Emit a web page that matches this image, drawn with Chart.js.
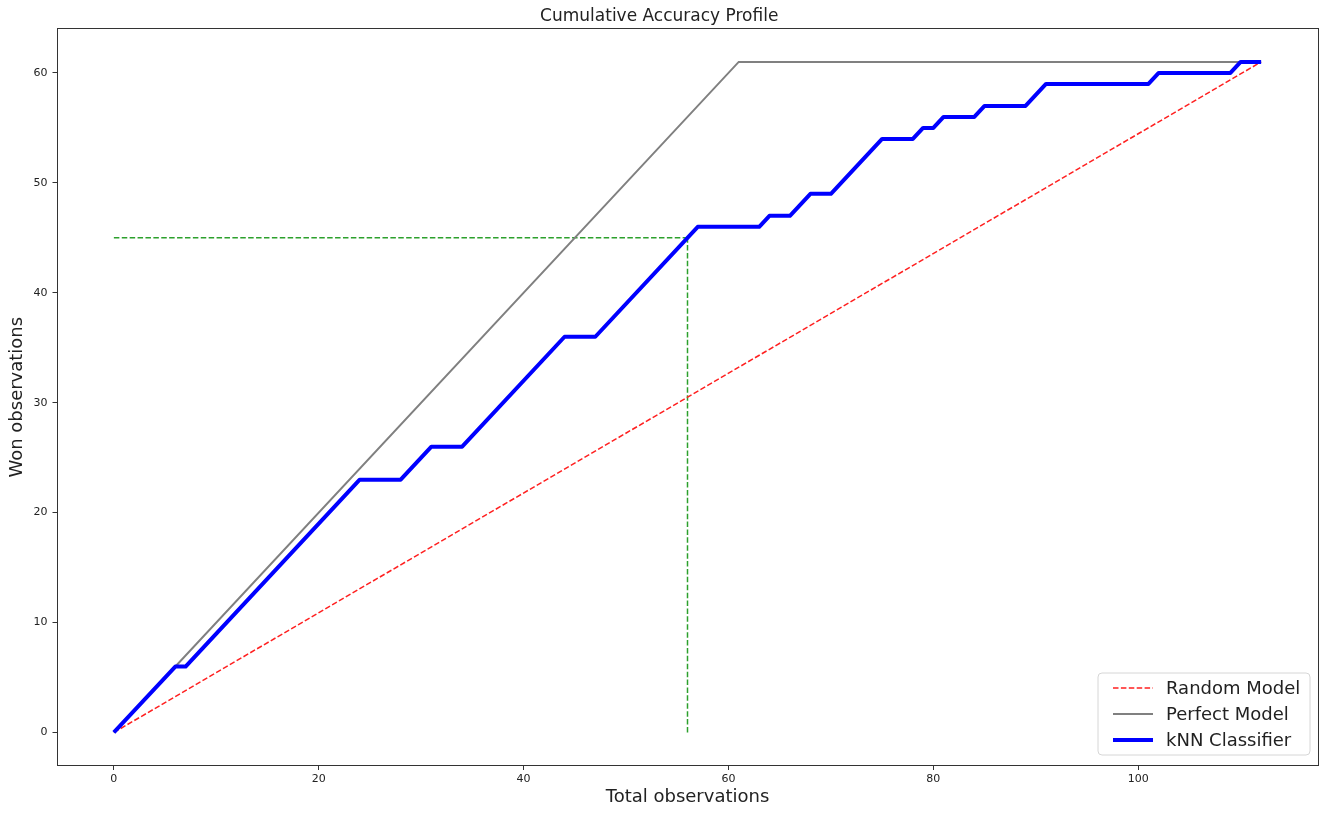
<!DOCTYPE html>
<html>
<head>
<meta charset="utf-8">
<script src="https://cdn.jsdelivr.net/npm/chart.js@4.4.1/dist/chart.umd.min.js"></script>
<style>
  html, body { margin: 0; padding: 0; background: #fff; }
  #wrap { width: 1320px; height: 813px; position: relative; }
</style>
</head>
<body>
<div id="wrap"><canvas id="c"></canvas></div>
<script>
// ---- data ----
const knnX = [0, 6, 7, 24, 28, 31, 34, 44, 47, 57, 63, 64, 66, 68, 70, 75, 78, 79, 80, 81, 84, 85, 89, 91, 101, 102, 109, 110, 112];
const knnY = [0, 6, 6, 23, 23, 26, 26, 36, 36, 46, 46, 47, 47, 49, 49, 54, 54, 55, 55, 56, 56, 57, 57, 59, 59, 60, 60, 61, 61];
const perfectX = [0, 61, 112];
const perfectY = [0, 61, 61];
const randomX = [0, 112];
const randomY = [0, 61];
const guideHX = [0, 56];
const guideHY = [45, 45];
const guideVX = [56, 56];
const guideVY = [0, 45];
const xTicks = [0, 20, 40, 60, 80, 100];
const yTicks = [0, 10, 20, 30, 40, 50, 60];

const pts = (xs, ys) => xs.map((x, i) => ({ x: x, y: ys[i] }));
const FONT = "'DejaVu Sans', sans-serif";

const frameAndLegend = {
  id: 'frameAndLegend',
  afterDatasetsDraw(chart) {
    const { ctx, chartArea: a } = chart;
    ctx.save();
    ctx.strokeStyle = '#333';
    ctx.lineWidth = 1;
    ctx.strokeRect(Math.round(a.left) + 0.5, Math.round(a.top) + 0.5,
                   Math.round(a.right - a.left) - 1, Math.round(a.bottom - a.top) - 1);
    ctx.restore();
  },
  afterDraw(chart) {
    const { ctx } = chart;
    const items = chart.data.datasets.filter(d => d.showInLegend);
    const bx = 1098, by = 673, bw = 212, bh = 82, r = 4;
    ctx.save();
    ctx.fillStyle = 'rgba(255,255,255,0.8)';
    ctx.strokeStyle = '#d6d6d6';
    ctx.lineWidth = 1;
    ctx.beginPath();
    ctx.moveTo(bx + r, by);
    ctx.lineTo(bx + bw - r, by); ctx.quadraticCurveTo(bx + bw, by, bx + bw, by + r);
    ctx.lineTo(bx + bw, by + bh - r); ctx.quadraticCurveTo(bx + bw, by + bh, bx + bw - r, by + bh);
    ctx.lineTo(bx + r, by + bh); ctx.quadraticCurveTo(bx, by + bh, bx, by + bh - r);
    ctx.lineTo(bx, by + r); ctx.quadraticCurveTo(bx, by, bx + r, by);
    ctx.closePath();
    ctx.fill(); ctx.stroke();
    items.forEach((d, i) => {
      const y = 688 + i * 26;
      ctx.beginPath();
      ctx.strokeStyle = d.borderColor;
      ctx.lineWidth = d.borderWidth;
      ctx.setLineDash(d.borderDash || []);
      ctx.moveTo(1113, y); ctx.lineTo(1153, y);
      ctx.stroke();
      ctx.setLineDash([]);
      ctx.fillStyle = '#222';
      ctx.font = "18px " + FONT;
      ctx.textBaseline = 'middle';
      ctx.textAlign = 'left';
      ctx.fillText(d.label, 1166, y + 1);
    });
    ctx.restore();
  }
};

new Chart(document.getElementById('c'), {
  type: 'line',
  data: {
    datasets: [
      { label: 'Random Model', data: pts(randomX, randomY), borderColor: '#ff2020', borderWidth: 1.5,
        borderDash: [5.5, 2.4], pointRadius: 0, order: 3, showInLegend: true },
      { label: 'Perfect Model', data: pts(perfectX, perfectY), borderColor: '#808080', borderWidth: 2,
        pointRadius: 0, order: 2, showInLegend: true },
      { label: 'kNN Classifier', data: pts(knnX, knnY), borderColor: '#0000ff', borderWidth: 4,
        pointRadius: 0, order: 1, showInLegend: true, borderJoinStyle: 'round' },
      { label: 'guideH', data: pts(guideHX, guideHY), borderColor: '#2ca02c', borderWidth: 1.5,
        borderDash: [5.5, 2.4], pointRadius: 0, order: 4 },
      { label: 'guideV', data: pts(guideVX, guideVY), borderColor: '#2ca02c', borderWidth: 1.5,
        borderDash: [5.5, 2.4], pointRadius: 0, order: 4 }
    ]
  },
  options: {
    responsive: true,
    maintainAspectRatio: false,
    animation: false,
    layout: { padding: { left: 0, right: 1.5, top: 0, bottom: 0 } },
    plugins: {
      legend: { display: false },
      tooltip: { enabled: false },
      title: {
        display: true,
        text: 'Cumulative Accuracy Profile',
        color: '#222',
        font: { family: FONT, size: 17, weight: 'normal', lineHeight: 1.2 },
        padding: { top: 6, bottom: 2 }
      }
    },
    scales: {
      x: {
        type: 'linear',
        min: -5.6, max: 117.6,
        afterBuildTicks: (s) => { s.ticks = xTicks.map(v => ({ value: v })); },
        afterFit: (s) => { s.height = 47; },
        grid: { display: true, drawOnChartArea: false, drawTicks: true, tickLength: 4, color: '#333' },
        border: { display: false },
        ticks: { color: '#222', font: { family: FONT, size: 11 }, padding: 3, maxRotation: 0 },
        title: { display: true, text: 'Total observations', color: '#222',
                 font: { family: FONT, size: 18 }, padding: { top: 0, bottom: 5 } }
      },
      y: {
        type: 'linear',
        min: -3.05, max: 64.05,
        afterBuildTicks: (s) => { s.ticks = yTicks.map(v => ({ value: v })); },
        afterFit: (s) => { s.width = 56.5; },
        grid: { display: true, drawOnChartArea: false, drawTicks: true, tickLength: 4, color: '#333' },
        border: { display: false },
        ticks: { color: '#222', font: { family: FONT, size: 11 }, padding: 5 },
        title: { display: true, text: 'Won observations', color: '#222',
                 font: { family: FONT, size: 18 }, padding: { top: 7, bottom: 0 } }
      }
    }
  },
  plugins: [frameAndLegend]
});
</script>
</body>
</html>
